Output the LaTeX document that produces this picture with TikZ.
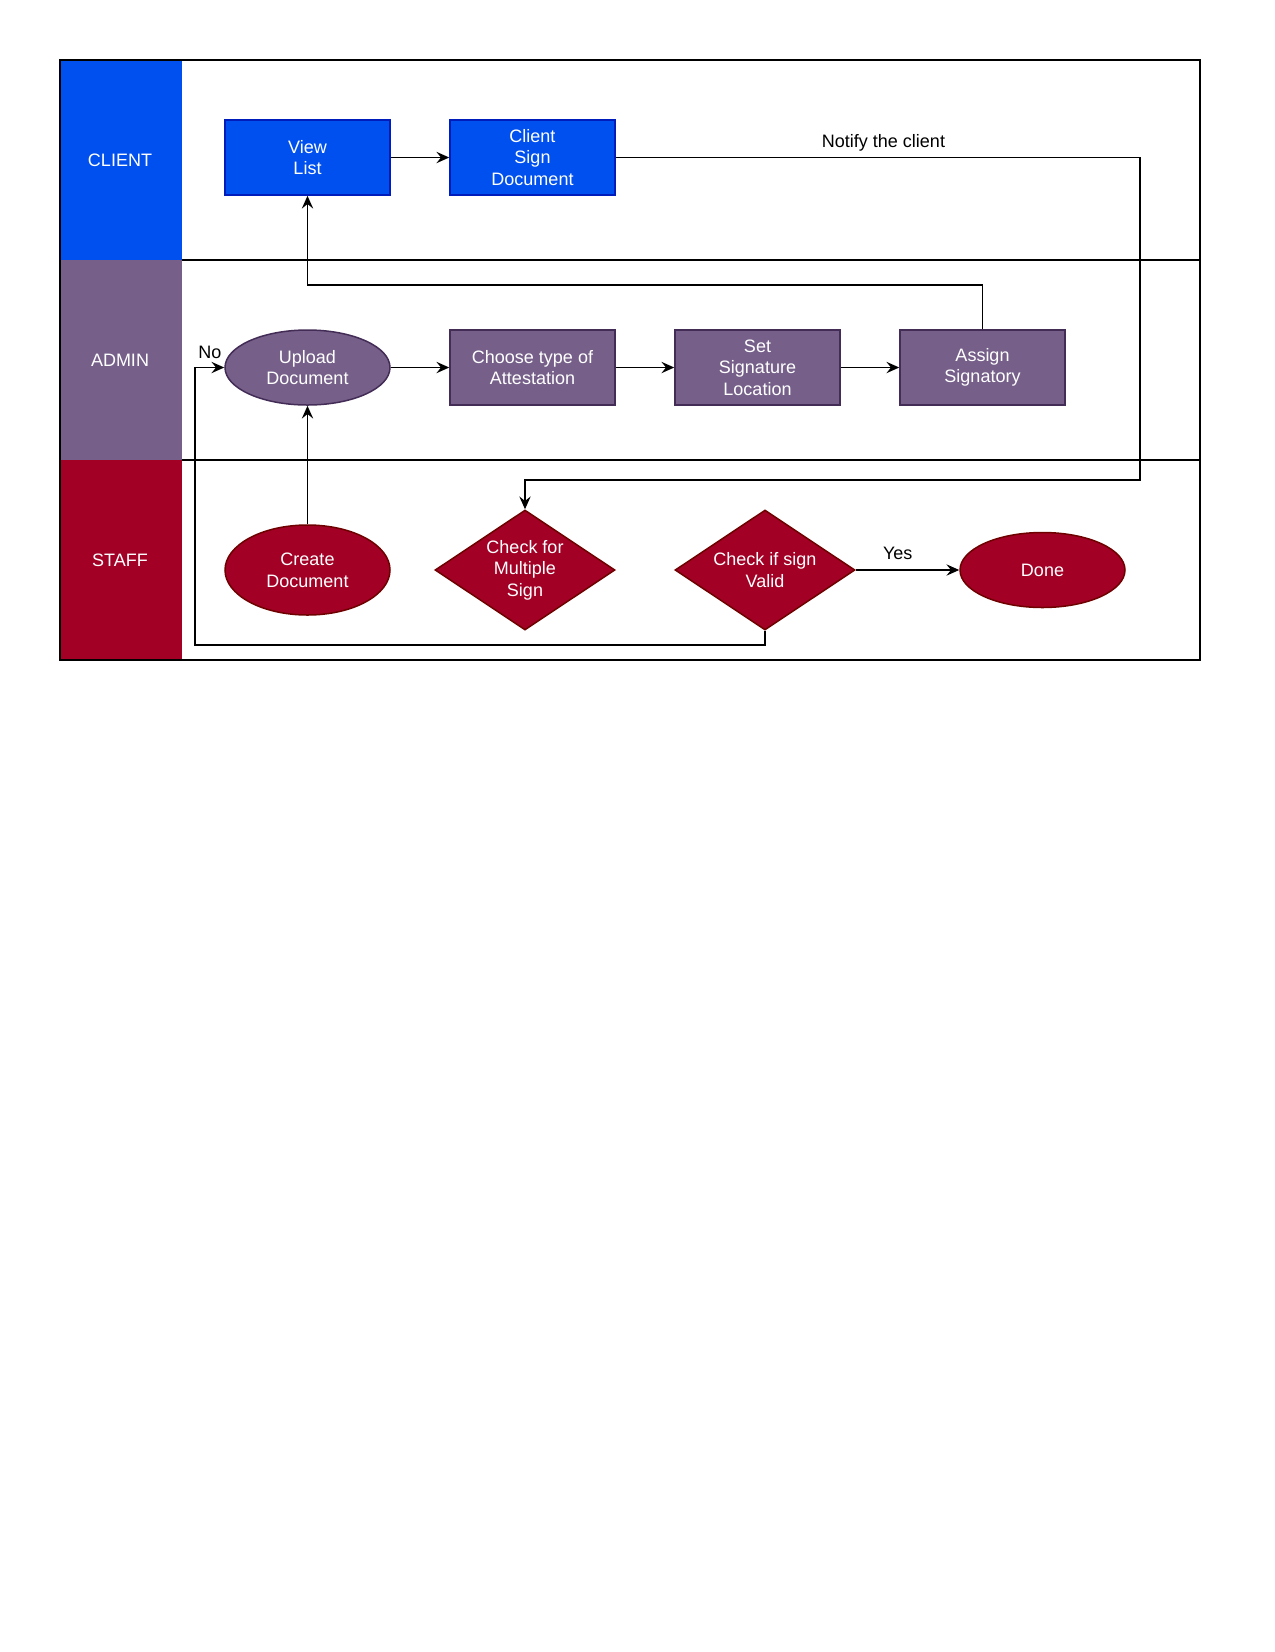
\documentclass[tikz,border=0pt]{standalone}
\usepackage{fontspec}
\setmainfont{Liberation Sans}
\usepackage{tikz}
\usetikzlibrary{arrows.meta,shapes.geometric}
\definecolor{clientfill}{HTML}{0050EF}
\definecolor{clientline}{HTML}{001DBC}
\definecolor{adminfill}{HTML}{76608A}
\definecolor{adminline}{HTML}{432D57}
\definecolor{stafffill}{HTML}{A20025}
\definecolor{staffline}{HTML}{6F0000}

\begin{document}
\begin{tikzpicture}[x=1pt,y=-1pt,line join=miter,line width=1pt,
  >={Stealth[length=8.5pt,width=7.5pt,inset=3pt]},
  font=\fontsize{12}{14.4}\selectfont,
  every node/.style={inner sep=0pt,align=center},
  lanetext/.style={text=white},
  procbox/.style={draw,text=white,minimum width=110pt,minimum height=50pt},
  roundbox/.style={ellipse,draw,text=white,minimum width=110pt,minimum height=50pt},
  decision/.style={diamond,draw,text=white,minimum width=120pt,minimum height=80pt,shape aspect=1.5},
  flow/.style={->,line width=1.3pt}]

\useasboundingbox (0,0) rectangle (850,1101.33);

% lanes
\fill[clientfill] (40,40) rectangle (121,173.33);
\fill[adminfill] (40,173.33) rectangle (121,306.67);
\fill[stafffill] (40,306.67) rectangle (121,440);
\draw (40,40) rectangle (800,440);
\draw (121,173.33) -- (800,173.33);
\draw[line width=1.5pt] (121,306.67) -- (800,306.67);
\draw[line width=1.5pt] (40,440) -- (800,440);
\node[lanetext] (client) at (80,106.67) {CLIENT};
\node[lanetext] (admin) at (80,240) {ADMIN};
\node[lanetext] (staff) at (80,373.33) {STAFF};

% client
\node[procbox,fill=clientfill,draw=clientline] (view) at (205,105) {View\\List};
\node[procbox,fill=clientfill,draw=clientline] (sign) at (355,105) {Client\\Sign\\Document};

% admin
\node[roundbox,fill=adminfill,draw=adminline] (upload) at (205,245) {Upload\\Document};
\node[procbox,fill=adminfill,draw=adminline] (choose) at (355,245) {Choose type of\\Attestation};
\node[procbox,fill=adminfill,draw=adminline] (setloc) at (505,245) {Set\\Signature\\Location};
\node[procbox,fill=adminfill,draw=adminline] (assign) at (655,245) {Assign\\Signatory};

% staff
\node[roundbox,fill=stafffill,draw=staffline,minimum height=60pt] (create) at (205,380) {Create\\Document};
\node[decision,fill=stafffill,draw=staffline] (multi) at (350,380) {Check for\\Multiple\\Sign};
\node[decision,fill=stafffill,draw=staffline] (valid) at (510,380) {Check if sign\\Valid};
\node[roundbox,fill=stafffill,draw=staffline] (done) at (695,380) {Done};

\coordinate (nc) at (760,320);
\coordinate (fb) at (205,190);
\coordinate (nb) at (130,430);

\draw[flow] (view) -- (sign);
\draw[flow] (sign.east) -| (nc) -| (multi.north);
\draw[flow] (assign.north) |- (fb) -- (view.south);
\draw[flow] (create) -- (upload);
\draw[flow] (upload) -- (choose);
\draw[flow] (choose) -- (setloc);
\draw[flow] (setloc) -- (assign);
\draw[flow] (valid.south) |- (nb) |- (upload.west);
\draw[flow] (valid.east) -- (done.west);

\node (notify) at (589,95.5) {Notify the client};
\node (no) at (140,235) {No};
\node (yes) at (598.5,369) {Yes};

\end{tikzpicture}
\end{document}
